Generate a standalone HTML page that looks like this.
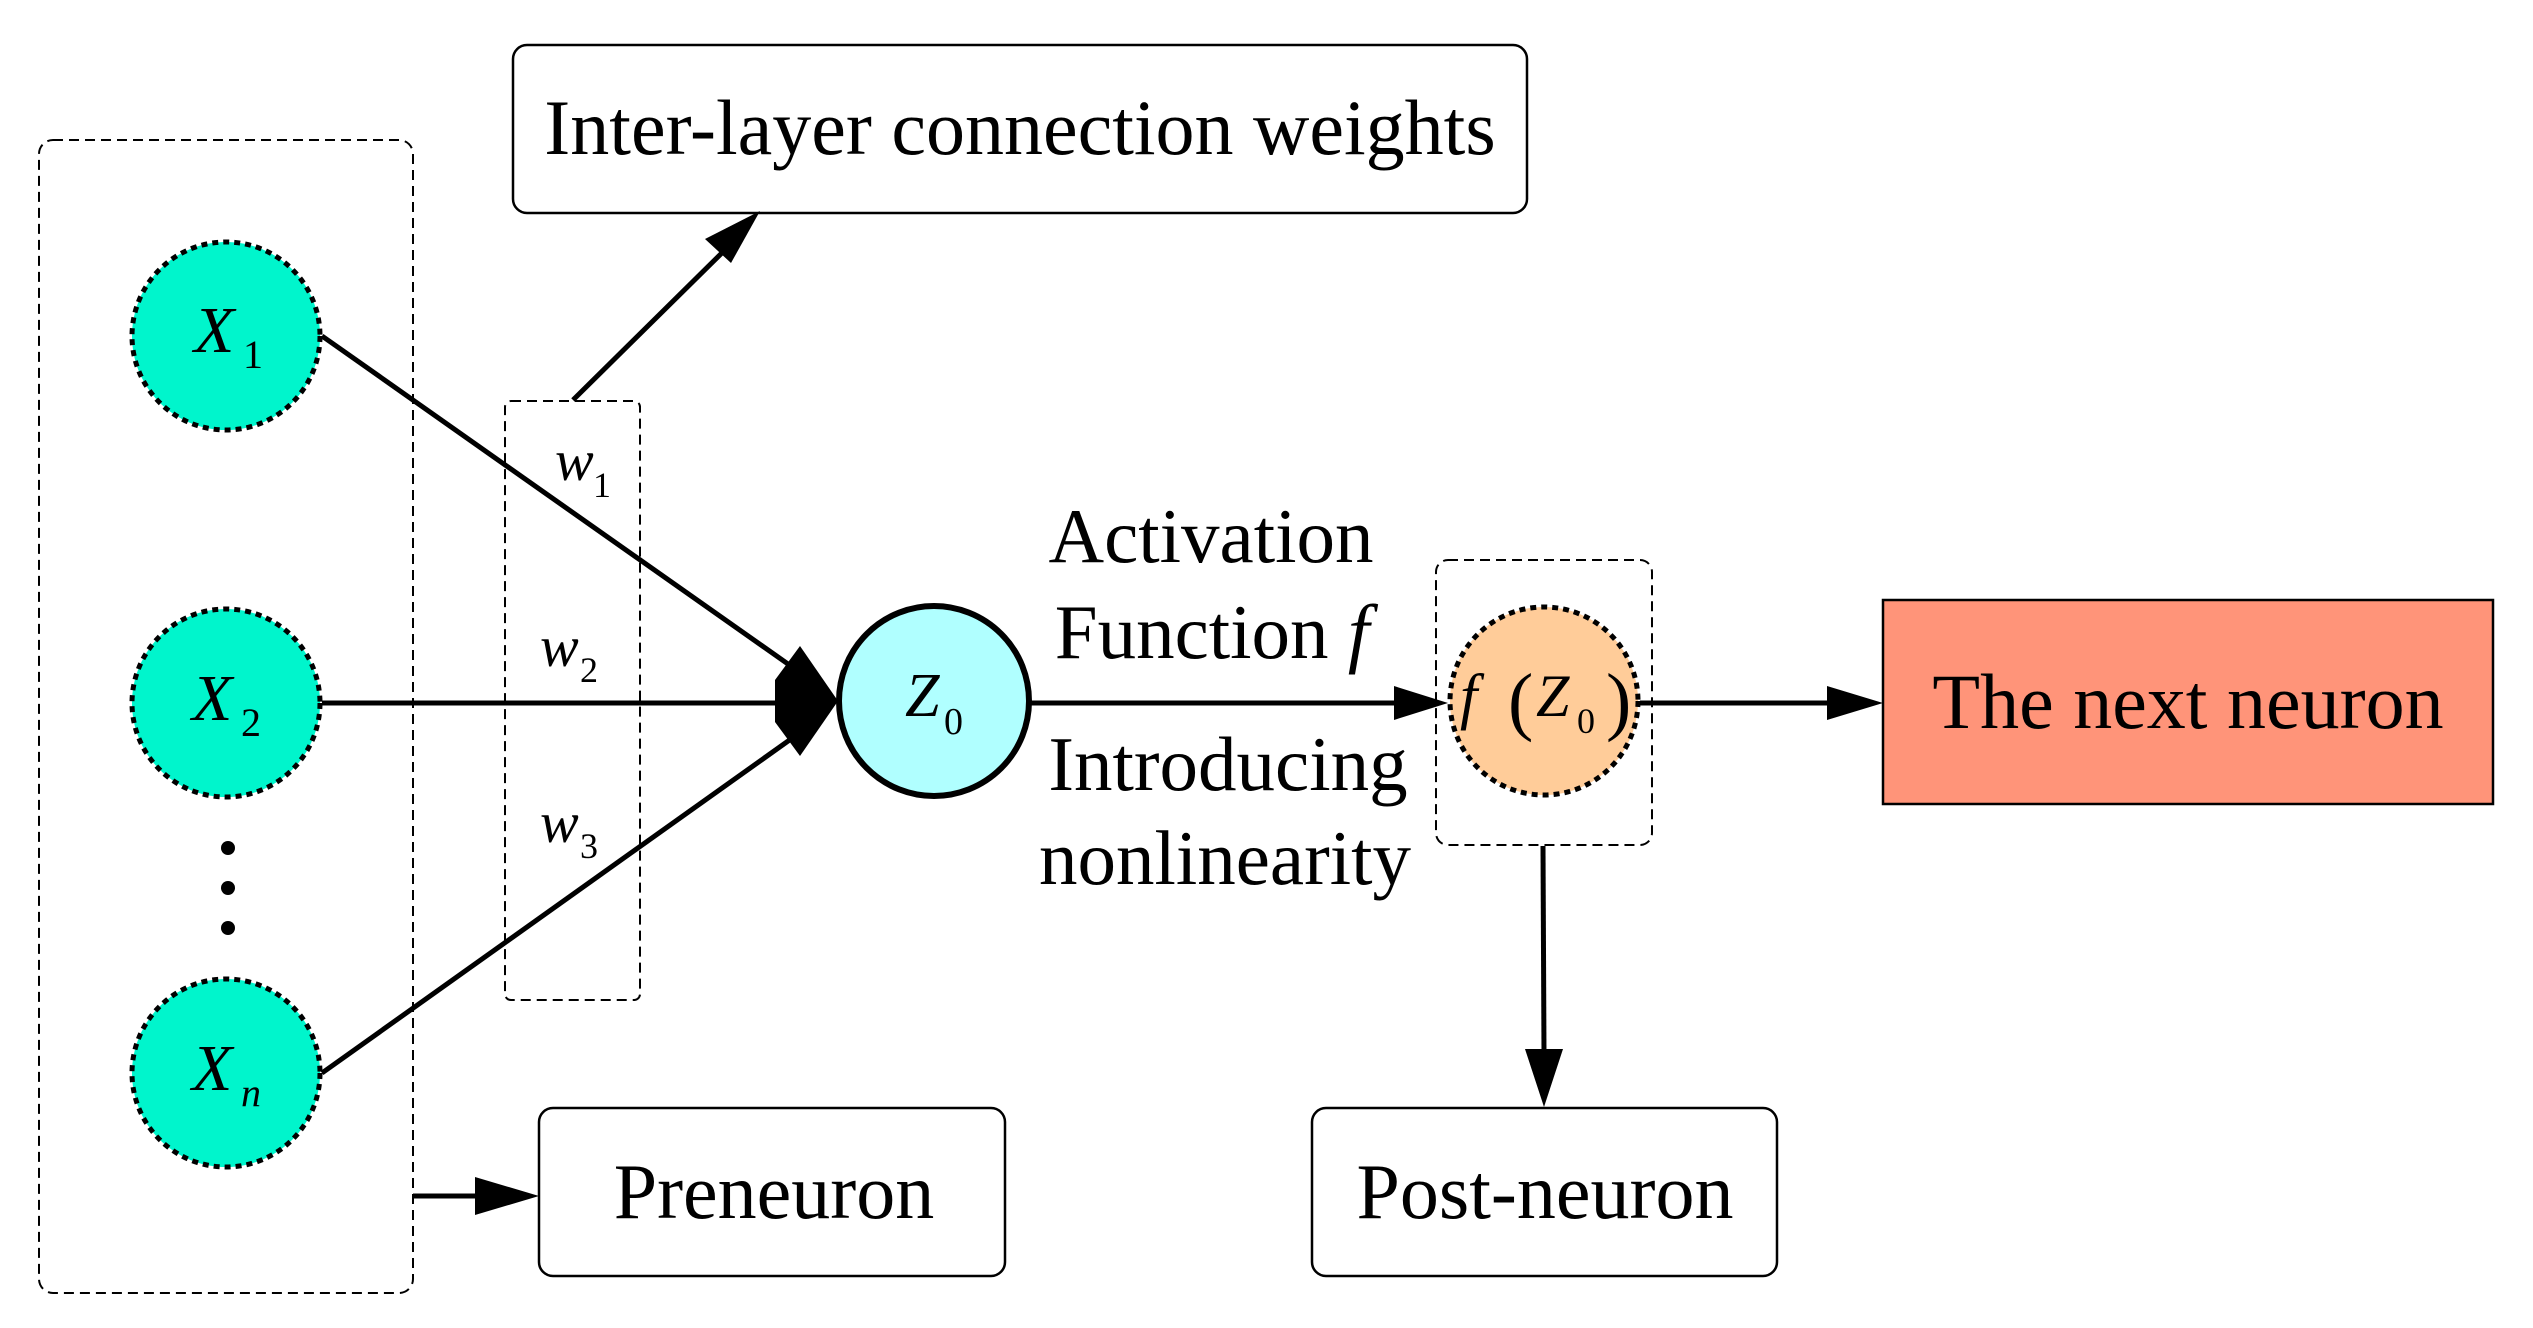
<!DOCTYPE html>
<html><head><style>
html,body{margin:0;padding:0;background:#fff;}
svg{display:block;}
text{font-family:"Liberation Serif",serif;fill:#000;}
</style></head><body>
<svg width="2533" height="1328" viewBox="0 0 2533 1328" xmlns="http://www.w3.org/2000/svg">
<rect x="39" y="140" width="374" height="1153" rx="14" fill="none" stroke="#000" stroke-width="2" stroke-dasharray="10,6"/>
<rect x="505" y="401" width="135" height="599" rx="6" fill="none" stroke="#000" stroke-width="2" stroke-dasharray="10,6"/>
<rect x="1436" y="560" width="216" height="285" rx="12" fill="none" stroke="#000" stroke-width="2" stroke-dasharray="10,6"/>

<rect x="513" y="45" width="1014" height="168" rx="14" fill="#fff" stroke="#000" stroke-width="2.5"/>
<text x="1020" y="154" font-size="78" text-anchor="middle">Inter-layer connection weights</text>

<line x1="322" y1="336" x2="805" y2="676" stroke="#000" stroke-width="5"/>
<line x1="322" y1="703" x2="800" y2="703" stroke="#000" stroke-width="5"/>
<line x1="322" y1="1073" x2="805" y2="729" stroke="#000" stroke-width="5"/>
<polygon points="838,701 800,646 775,680 775,722 800,756" fill="#000"/>

<line x1="573" y1="400" x2="735" y2="240" stroke="#000" stroke-width="5"/>
<polygon points="760,211 705,239 731,263" fill="#000"/>

<circle cx="226" cy="336" r="94" fill="#00F5CC" stroke="#000" stroke-width="5" stroke-dasharray="6,5"/>
<circle cx="226" cy="703" r="94" fill="#00F5CC" stroke="#000" stroke-width="5" stroke-dasharray="6,5"/>
<circle cx="226" cy="1073" r="94" fill="#00F5CC" stroke="#000" stroke-width="5" stroke-dasharray="6,5"/>
<text x="194" y="352" font-size="66" font-style="italic">X</text><text x="243" y="368" font-size="40">1</text>
<text x="192" y="720" font-size="66" font-style="italic">X</text><text x="241" y="736" font-size="40">2</text>
<text x="192" y="1090" font-size="66" font-style="italic">X</text><text x="241" y="1106" font-size="40" font-style="italic">n</text>
<circle cx="228" cy="848" r="7" fill="#000"/>
<circle cx="228" cy="888" r="7" fill="#000"/>
<circle cx="228" cy="928" r="7" fill="#000"/>

<text x="555" y="480" font-size="58" font-style="italic">w</text><text x="593" y="497" font-size="36">1</text>
<text x="540" y="666" font-size="58" font-style="italic">w</text><text x="580" y="682" font-size="36">2</text>
<text x="540" y="842" font-size="58" font-style="italic">w</text><text x="580" y="858" font-size="36">3</text>

<circle cx="934" cy="701" r="95" fill="#B0FFFF" stroke="#000" stroke-width="6"/>
<text x="905" y="716" font-size="62" font-style="italic">Z</text><text x="944" y="734" font-size="38">0</text>

<text x="1211" y="562" font-size="77" text-anchor="middle">Activation</text>
<text x="1212" y="658" font-size="77" text-anchor="middle">Function <tspan font-style="italic">f</tspan></text>
<text x="1228" y="790" font-size="77" text-anchor="middle">Introducing</text>
<text x="1225" y="884" font-size="77" text-anchor="middle">nonlinearity</text>

<line x1="1030" y1="703" x2="1400" y2="703" stroke="#000" stroke-width="5"/>
<polygon points="1448,703 1394,686 1394,720" fill="#000"/>

<circle cx="1544" cy="701" r="94" fill="#FFCC99" stroke="#000" stroke-width="5" stroke-dasharray="6,5"/>
<text x="1460" y="717" font-size="62" font-style="italic">f</text>
<text x="1508" y="726" font-size="76">(</text>
<text x="1536" y="716" font-size="60" font-style="italic">Z</text><text x="1577" y="733" font-size="36">0</text>
<text x="1606" y="726" font-size="76">)</text>

<line x1="1640" y1="703" x2="1830" y2="703" stroke="#000" stroke-width="5"/>
<polygon points="1883,703 1827,686 1827,720" fill="#000"/>
<rect x="1883" y="600" width="610" height="204" fill="#FF9479" stroke="#000" stroke-width="2.5"/>
<text x="2188" y="728" font-size="78" text-anchor="middle">The next neuron</text>

<line x1="1543" y1="846" x2="1544" y2="1055" stroke="#000" stroke-width="5"/>
<polygon points="1544,1107 1525,1049 1563,1049" fill="#000"/>
<rect x="1312" y="1108" width="465" height="168" rx="14" fill="#fff" stroke="#000" stroke-width="2.5"/>
<text x="1545" y="1218" font-size="78" text-anchor="middle">Post-neuron</text>

<line x1="413" y1="1196" x2="490" y2="1196" stroke="#000" stroke-width="5"/>
<polygon points="539,1196 475,1177 475,1215" fill="#000"/>
<rect x="539" y="1108" width="466" height="168" rx="14" fill="#fff" stroke="#000" stroke-width="2.5"/>
<text x="774" y="1218" font-size="78" text-anchor="middle">Preneuron</text>
</svg>
</body></html>
